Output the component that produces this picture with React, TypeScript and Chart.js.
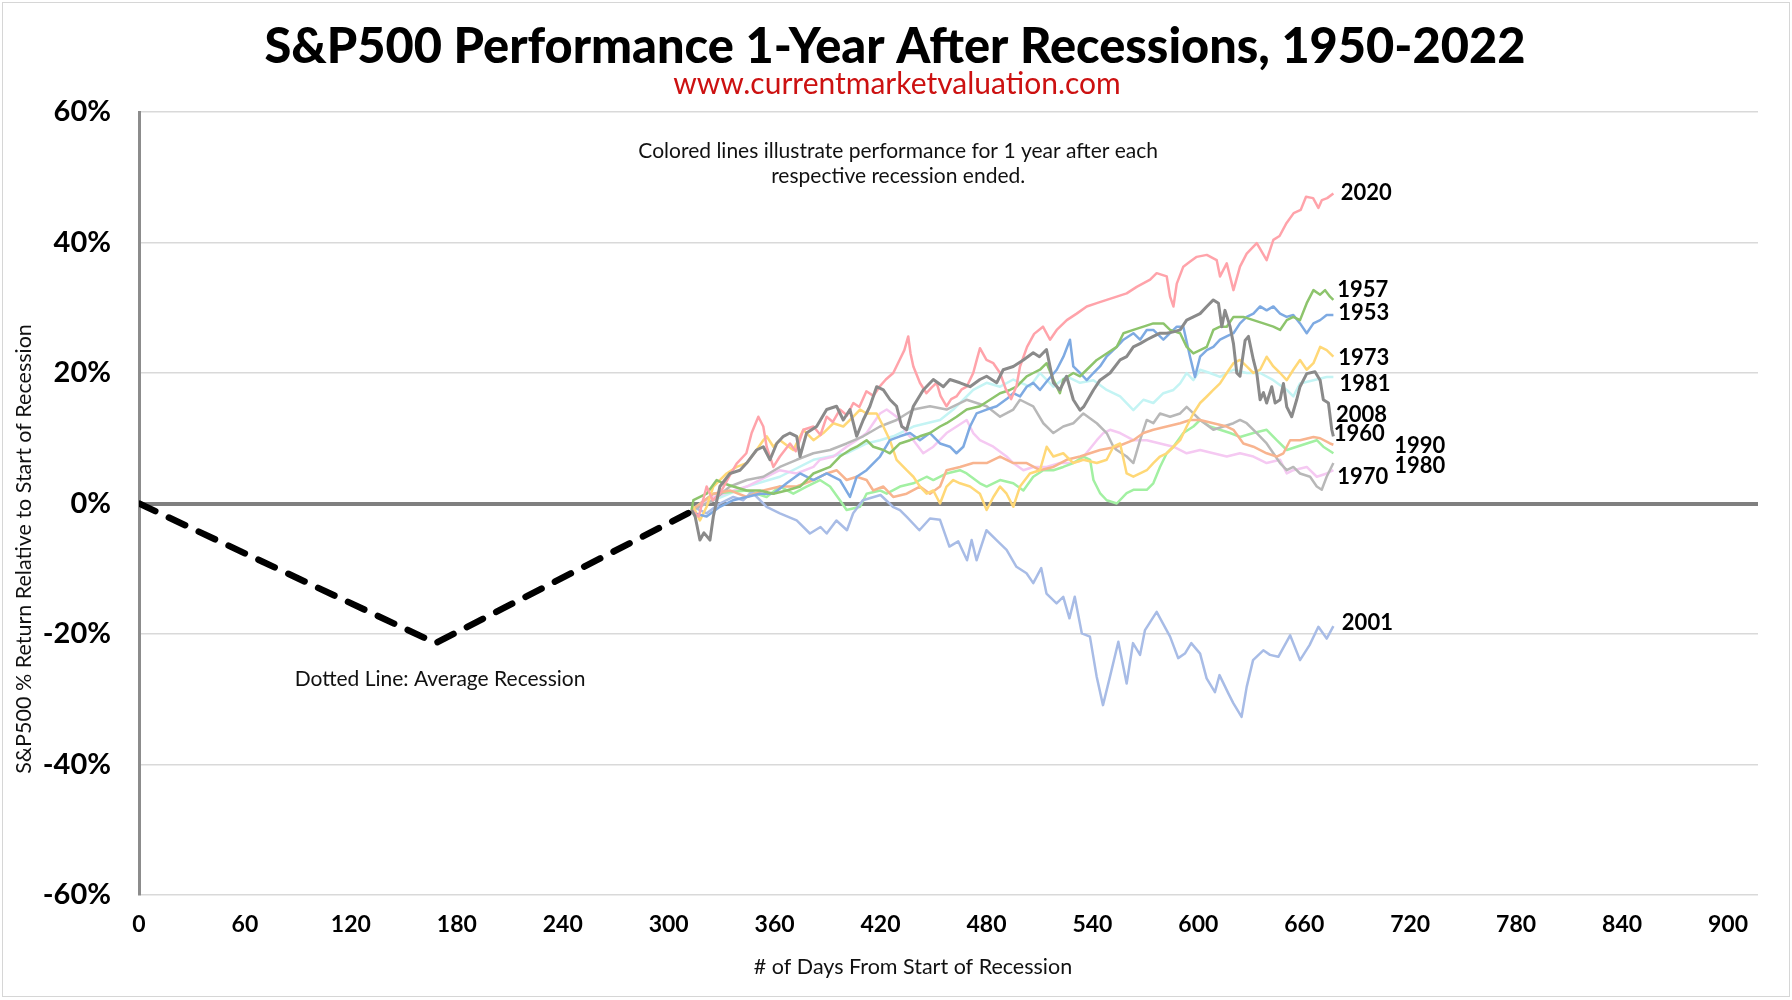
import React, { useEffect, useRef } from 'react';
import { Chart, registerables } from 'chart.js';

Chart.register(...registerables);

const FONT = 'Lato, "Open Sans", "DejaVu Sans", sans-serif';

const TITLE = 'S&P500 Performance 1-Year After Recessions, 1950-2022';
const SUBTITLE = 'www.currentmarketvaluation.com';
const X_TITLE = '# of Days From Start of Recession';
const Y_TITLE = 'S&P500 % Return Relative to Start of Recession';

const xTickValues = [0, 60, 120, 180, 240, 300, 360, 420, 480, 540, 600, 660, 720, 780, 840, 900];
const yTickValues = [-60, -40, -20, 0, 20, 40, 60];

// [day, % return]
const avgRecession = [[0, 0], [168, -21.4], [313, -1.2]];

const s2020 = [[313, -1], [317, -2], [321.5, 2.6], [325, 0.5], [329, 1.5], [334, 4], [338.5, 6.1], [344, 7.7], [347, 10.8], [350.8, 13.3], [353.6, 11.8], [355.5, 8.7], [359.3, 5.6], [363, 7.2], [368.7, 9.2], [372, 8], [376.3, 11.3], [382, 11.8], [386, 10.5], [389.5, 13.3], [393, 12.5], [397, 14.4], [401, 13.5], [404.6, 15.4], [408, 14.8], [412, 17.2], [416, 16.5], [419.7, 18], [423, 19], [427.2, 20], [431, 22.1], [433.5, 23.5], [435.7, 25.6], [437, 23], [438.6, 21], [442.3, 18.5], [446, 16.9], [449, 17.8], [451.8, 18.5], [454, 16.5], [457.4, 14.9], [460, 16], [463, 16.4], [466, 17.5], [468.8, 17.9], [472.5, 20], [474.5, 22], [476.3, 23.8], [480, 22], [483.9, 21.5], [487.7, 20], [491, 17.5], [494, 16], [497, 18], [499, 21], [503, 24], [507, 26], [512, 27.1], [516, 25.1], [519.8, 26.6], [525.5, 28.1], [531.1, 29.1], [536.8, 30.2], [542.5, 30.7], [548.1, 31.2], [553.8, 31.7], [559.4, 32.2], [565.1, 33.2], [572.7, 34.3], [576.4, 35.3], [582.1, 34.8], [584, 31.7], [585.9, 30.2], [587.8, 33.7], [591.5, 36.3], [595, 37], [599.1, 37.8], [604.8, 38.1], [610.4, 37.3], [612.3, 34.8], [616.1, 36.8], [619.9, 32.7], [623.6, 36.3], [627.4, 38.3], [633.1, 39.9], [638.7, 37.3], [642.5, 40.4], [646, 41], [650, 43], [654, 44.5], [658, 45], [661, 47], [665, 46.8], [668, 45.3], [670, 46.5], [673, 46.8], [676.5, 47.5]];

const s2008 = [[313, -1], [315, -2], [317.7, -5.6], [320, -4.5], [323.4, -5.6], [325.3, -2], [329, 2.6], [334.7, 4.6], [340.4, 5.1], [344.2, 6.2], [349.8, 8.2], [353.6, 8.7], [357.4, 6.7], [361.2, 9.2], [365, 10.3], [368.7, 10.8], [372.5, 10.3], [374.4, 7.2], [378.1, 10.8], [383.8, 11.8], [389.5, 14.4], [395.1, 14.9], [398.9, 12.8], [402.7, 14.4], [406.5, 10.3], [410.2, 12.8], [414, 14.9], [417.8, 17.9], [421.6, 17.4], [425.4, 15.9], [429.1, 14.9], [432, 11.8], [434.8, 11.3], [438.6, 14.9], [444.2, 17.4], [449.9, 19], [455.6, 17.9], [459.3, 19], [465, 18.5], [470.7, 17.9], [476.3, 19], [480.1, 19.5], [485.8, 18.5], [489.5, 20.5], [495.2, 21], [500.9, 22], [506.5, 23.1], [510, 22.5], [514, 23.6], [517.9, 18.5], [521.6, 17.4], [525.4, 19.5], [529.2, 15.9], [533, 14.3], [535, 14.8], [540.6, 17.4], [544.3, 18.9], [550, 20], [555.7, 22], [559.4, 22.5], [563.2, 24], [567, 24.5], [570.8, 25.1], [574.5, 25.6], [578.3, 26.1], [582.1, 26.1], [585.9, 26.3], [589.7, 26.6], [593.4, 28.1], [597.2, 28.6], [601, 29.1], [604.8, 30.2], [608.5, 31.2], [611.4, 30.7], [613.3, 27.1], [615.1, 29.6], [618, 27.1], [619.9, 24.5], [621.8, 20], [623.6, 19.5], [626.5, 25], [628.4, 25.6], [631.2, 22], [633.1, 20], [635, 15.9], [636.9, 17], [638.7, 15.4], [641.6, 17.9], [643.5, 15.4], [646.3, 15.9], [648.2, 18.4], [650.1, 14.8], [652.9, 13.3], [655.7, 15.9], [657.6, 17.9], [661.4, 19.9], [666.1, 20.2], [669, 18.9], [670.8, 15.9], [673.7, 15.4], [675.6, 11.3], [676.5, 10.3]];

const s1957 = [[313, -1], [314, 0.5], [321.5, 1.5], [327.2, 3.6], [331, 3.1], [336.6, 2.6], [344.2, 2], [351.7, 2], [359.3, 1.5], [366.8, 2], [374.4, 2.6], [382, 4.6], [391.4, 5.6], [397, 7.2], [402.7, 8.2], [406.5, 8.7], [412.1, 9.7], [415.9, 8.7], [421.6, 8.2], [425.3, 7.7], [431, 9.2], [436.7, 9.7], [442.3, 10.3], [448, 10.8], [453.7, 11.8], [457.4, 12.3], [463.1, 13.3], [468.8, 14.4], [476.3, 14.9], [482, 15.9], [487.7, 16.9], [493.3, 17.4], [497.1, 17.9], [502.8, 19.5], [506.5, 20], [510.3, 20.5], [514.1, 21.5], [517.9, 19], [521.6, 16.9], [523.5, 19], [529.2, 20], [533, 19.5], [536.8, 20.5], [542.5, 22], [548.1, 23], [553.8, 24], [557.6, 26.1], [563.2, 26.6], [568.9, 27.1], [574.5, 27.6], [580.2, 27.6], [584, 26.6], [589.7, 26.1], [593.4, 24], [597.2, 23], [601, 23.5], [604.8, 24], [608.5, 26.6], [612.3, 27.1], [616.1, 27.1], [619.9, 28.6], [625.5, 28.6], [631.2, 28.1], [636.9, 27.6], [642.5, 27.1], [646.3, 26.6], [650.1, 28.1], [653.8, 28.6], [657.6, 28.1], [661.4, 30.7], [665.2, 32.7], [669, 32], [671.8, 32.7], [674.6, 31.7], [676.5, 31.2]];

const s1953 = [[313, -1], [314, -1.5], [321.5, -2], [329, -0.5], [336.6, 0.5], [344.2, 1], [351.7, 1.5], [359.3, 1.5], [366.8, 3.1], [374.4, 4.6], [382, 3.6], [389.5, 4.6], [397, 3.6], [402.7, 1], [406.5, 4.1], [412.1, 5.1], [419.7, 7.2], [425.3, 9.7], [431, 10.3], [436.7, 10.8], [442.3, 9.7], [448, 10.8], [453.7, 9.2], [459.3, 8.7], [463, 7.7], [466.9, 8.7], [470.7, 11.8], [474.4, 13.8], [480.1, 14.4], [485.8, 14.9], [491.4, 16], [495.2, 16.9], [499, 16.4], [502.8, 17.9], [506.5, 18.5], [510.3, 17.4], [514.1, 18.7], [519.8, 20.5], [523.6, 22.5], [527.3, 25.1], [529.2, 21], [533, 20], [536.8, 18.9], [540.6, 20], [544.3, 21], [548, 22.5], [553.8, 24], [557.6, 25.1], [563.2, 26.1], [567, 25.1], [570.8, 26.6], [574.5, 26.6], [580.2, 25.1], [584, 26.1], [587.8, 27.1], [591.5, 27.1], [595.3, 22.5], [598.1, 19.4], [601, 22.5], [604.8, 23.5], [608.5, 24], [612.3, 25.1], [616, 25.6], [619.9, 26.1], [623.6, 27.6], [627.4, 28.6], [631.2, 29.1], [635, 30.2], [638.7, 29.6], [642.5, 30.2], [646.3, 29.1], [650, 28.6], [653.8, 28.9], [657.6, 27.6], [661.4, 26.1], [665.2, 27.6], [669, 28.1], [672.7, 28.9], [676.5, 28.9]];

const s1973 = [[313, -1], [314, -0.5], [317.7, -2.6], [321.5, -0.5], [325.3, 2.6], [329, 3.6], [332.8, 4.6], [338.5, 5.6], [344.2, 6.2], [349.8, 8.2], [353.6, 9.7], [355.5, 10.3], [359.3, 8.7], [363, 9.7], [370.6, 8.2], [376.3, 11.3], [382, 9.7], [387.6, 10.8], [393.3, 12.3], [398.9, 11.8], [404.6, 13.3], [408.4, 14.4], [412.1, 13.8], [417.8, 13.8], [421.6, 11.8], [425.3, 9.7], [429.1, 6.7], [434.8, 5.1], [438.6, 4.1], [442.3, 2.6], [446.1, 1.5], [449.9, 2], [453.7, 0], [457.4, 2.6], [461.2, 3.6], [465, 3.1], [470.7, 2.6], [476.3, 1.5], [480.1, -1], [483.9, 1], [487.7, 2.6], [491.4, 1.5], [495.2, -0.5], [499, 2.6], [504.6, 4.6], [510.3, 5.1], [514.1, 8.7], [517.9, 7.2], [523.5, 7.7], [529.2, 6.2], [534.9, 6.7], [542.5, 6.2], [548.1, 6.7], [551.9, 8.7], [555.7, 9.2], [559.4, 4.6], [563.2, 4.1], [567, 4.6], [570.8, 5.1], [574.5, 6.2], [578.3, 7.2], [582.1, 7.7], [585.9, 8.7], [589.7, 9.7], [593.4, 11.8], [597.2, 13.8], [601, 15.4], [604.8, 16.4], [608.5, 17.4], [612.3, 18.4], [616.1, 20], [619.9, 21.5], [623.6, 22], [627.4, 21], [631.2, 20], [635, 20.5], [638.7, 22.5], [642.5, 21], [646.3, 20], [650.1, 18.9], [653.8, 20.5], [657.6, 22], [661.4, 20.5], [665.2, 21.5], [669, 24], [672.7, 23.5], [676.5, 22.5]];

const s1981 = [[313, -1], [325.3, 0.5], [344.2, 2.6], [363, 4.1], [382, 6.7], [391.4, 7.2], [400.8, 7.7], [412.1, 9.2], [419.7, 9.7], [427.2, 10.3], [438.6, 11.8], [446.1, 12.3], [453.7, 12.8], [461.2, 14.4], [466.9, 15.9], [472.5, 17.4], [480.1, 18.5], [487.7, 17.9], [495.2, 19], [504.6, 17.9], [510.3, 20], [517.9, 17.9], [525.4, 19.5], [533, 18.5], [540.6, 18.9], [548.1, 17.4], [555.7, 16.4], [563.2, 14.3], [568.9, 15.9], [574.5, 15.4], [580.2, 16.9], [585.9, 17.4], [589.7, 18.4], [593.4, 20], [597.2, 18.9], [601, 20.5], [606.6, 20], [612.3, 19.4], [619.9, 20.5], [627.4, 20], [635, 20], [642.5, 18.9], [650.1, 17.4], [653.8, 16.4], [657.6, 18.4], [665.2, 18.9], [672.7, 19.4], [676.5, 19.4]];

const s1960 = [[313, -1], [325.3, 1.5], [334.7, 2], [344.2, 1], [353.6, 2], [363, 2.6], [372.5, 2.6], [382, 3.6], [389.5, 4.6], [395.1, 5.1], [400.8, 3.6], [406.5, 4.1], [412.1, 3.6], [415.9, 2], [421.6, 2.6], [427.2, 1], [434.8, 1.5], [442.3, 2.6], [448, 1.5], [453.7, 2.6], [457.4, 5.1], [465, 5.6], [472.5, 6.2], [480.1, 6.2], [487.7, 7.2], [495.2, 6.2], [502.8, 6.2], [510.3, 5.1], [517.9, 5.6], [525.4, 6.7], [533, 7.2], [544.3, 8.2], [553.8, 8.7], [563.2, 9.7], [568.9, 10.8], [574.5, 11.3], [582.1, 11.8], [589.7, 12.3], [595.3, 12.8], [601, 12.8], [608.5, 12.3], [616.1, 11.8], [619.9, 11.3], [625.5, 9.2], [631.2, 8.7], [638.7, 7.7], [644.4, 7.2], [648.2, 7.7], [652, 9.7], [657.6, 9.7], [665.2, 10.2], [669, 10], [674.6, 9.2], [676.5, 9]];

const s1990 = [[313, -1], [325.3, 1.5], [344.2, 2], [355.5, 1], [363, 2.6], [370.6, 1.5], [378.1, 2.6], [385.7, 3.6], [391.4, 2.6], [397, 0.5], [400.8, -1], [408.4, -0.5], [412.1, 1.5], [419.7, 2], [423.5, 1.5], [431, 2.6], [438.6, 3.1], [446.1, 4.1], [449.9, 3.6], [457.4, 4.6], [465, 5.1], [468.8, 4.6], [476.3, 3.1], [480.1, 2.6], [487.7, 3.6], [495.2, 3.1], [500.9, 2], [506.5, 4.1], [512.2, 5.1], [517.9, 5.1], [523.5, 5.6], [529.2, 6.2], [534.9, 7.2], [538.7, 6.7], [540.6, 3.6], [544.3, 1.6], [548.1, 0.5], [553.8, 0], [559.4, 1.6], [563.2, 2.1], [570.8, 2.1], [574.5, 3.1], [578.3, 5.6], [582.1, 7.7], [585.9, 8.7], [591.5, 10.8], [597.2, 11.8], [601, 12.8], [606.6, 11.8], [612.3, 11.3], [618, 10.8], [623.6, 10.2], [631.2, 10.8], [638.7, 11.3], [644.4, 9.7], [650.1, 8.2], [655.7, 8.7], [661.4, 9.2], [667.1, 9.7], [670.8, 8.7], [676.5, 7.7]];

const s1980 = [[313, -1], [325.3, 1], [344.2, 2.6], [363, 5.1], [372.5, 4.6], [382, 5.6], [385.7, 6.7], [393.3, 7.2], [400.8, 8.7], [406.5, 9.7], [412.1, 10.8], [419.7, 13.8], [423.5, 14.4], [429.1, 13.3], [434.8, 10.8], [438.6, 9.7], [444.2, 7.7], [449.9, 8.7], [457.4, 10.8], [463.1, 11.8], [468.8, 12.8], [472.5, 10.8], [476.3, 9.7], [483.9, 8.7], [491.4, 7.2], [495.2, 6.2], [500.9, 5.1], [506.5, 5.6], [514.1, 5.6], [521.6, 6.2], [527.3, 6.2], [533, 6.5], [542.5, 9.7], [546.2, 10.8], [550, 11.3], [555.7, 10.8], [563.2, 9.7], [570.8, 9.7], [578.3, 9.2], [585.9, 8.7], [593.4, 7.7], [601, 8.2], [608.5, 7.7], [616.1, 7.2], [623.6, 7.7], [631.2, 7.2], [638.7, 6.2], [646.3, 6.7], [650.1, 4.6], [653.8, 5.1], [661.4, 5.6], [667.1, 4.1], [672.7, 4.6], [676.5, 5.1]];

const s1970 = [[313, -1], [325.3, 0.5], [334.7, 2.6], [344.2, 3.6], [353.6, 4.1], [363, 5.6], [372.5, 6.7], [382, 7.7], [391.4, 8.2], [400.8, 9.2], [410.2, 10.3], [419.7, 11.8], [429.1, 12.8], [438.6, 14.4], [448, 14.9], [457.4, 14.4], [468.8, 15.9], [480.1, 14.9], [487.7, 13.3], [495.2, 14.4], [499, 15.9], [506.5, 14.9], [512.2, 12.3], [517.9, 10.8], [523.5, 11.8], [529.2, 12.3], [534.9, 13.8], [542.5, 12.3], [548.1, 10.8], [551.9, 8.7], [553.8, 8.2], [559.4, 7.2], [563.2, 6.2], [567, 9.7], [570.8, 12.8], [574.5, 12.3], [578.3, 13.8], [584, 13.3], [589.7, 13.8], [593.4, 14.8], [597.2, 13.8], [601, 12.8], [608.5, 11.3], [614.2, 11.8], [619.9, 12.3], [623.6, 12.8], [627.4, 12.3], [633.1, 10.8], [638.7, 9.2], [642.5, 7.7], [646.3, 6.2], [650.1, 5.1], [653.8, 5.6], [657.6, 4.6], [663.3, 4.1], [667.1, 2.6], [669.9, 2.1], [672.7, 4.1], [676.5, 6.2]];

const s2001 = [[313, -1], [314, -0.5], [321.5, -1.5], [329, 0], [336.6, 1], [342.3, 0.5], [347, 1.8], [355.5, -0.5], [363, -1.5], [372.5, -2.6], [380, -4.6], [386, -3.6], [389.5, -4.6], [395, -2.6], [401, -4.1], [404.5, -1.5], [410, 0.5], [420, 1.3], [427, -0.5], [431, -1], [435, -2.1], [442, -4.1], [448, -2.3], [453.7, -2.5], [459, -6.6], [464, -5.8], [469, -8.7], [471.6, -5.6], [474.4, -8.7], [480, -4.1], [485.7, -5.6], [491.4, -7.1], [497, -9.7], [502.7, -10.7], [506.5, -12.2], [511, -9.9], [514, -13.8], [519.7, -15.3], [523.5, -14.3], [527, -17.6], [530, -14.3], [534, -19.9], [538.6, -20.4], [542.4, -26.5], [546, -30.9], [550, -26.5], [554.7, -21.2], [559.4, -27.6], [563, -21.4], [567, -23.2], [569.8, -19.4], [576.4, -16.6], [580, -18.4], [584, -20.4], [588.6, -23.7], [592.4, -23], [596, -21.4], [601, -23], [604.7, -26.8], [609.4, -28.9], [612, -26.3], [617, -29.1], [619.8, -30.6], [624.5, -32.7], [627.4, -28.1], [631, -24], [636.8, -22.5], [640.6, -23.2], [645.3, -23.5], [652, -20.2], [657.6, -24], [663, -21.7], [668, -18.9], [672.7, -20.7], [676.5, -18.8]];

// drawing order: first = on top
const seriesNames = ['2008', '2020', '1957', '1953', '1973', '1960', '1970', '2001', '1990', '1980', '1981'];
const seriesValues = [s2008, s2020, s1957, s1953, s1973, s1960, s1970, s2001, s1990, s1980, s1981];
const seriesColors = ['#8a8a8a', '#ffa3aa', '#8dc46c', '#7eaae2', '#ffd877', '#f8b48f', '#b8b8b8', '#a8bce6', '#a2f0a2', '#f5c9f2', '#c4f4f4'];

// end-of-line labels: [label, day, %]
const endLabels = [
  ['2020', 680.6, 47.6],
  ['1957', 678.7, 32.8],
  ['1953', 679.3, 29.2],
  ['1973', 679.3, 22.3],
  ['1981', 680, 18.3],
  ['2008', 678, 13.6],
  ['1960', 676.7, 10.6],
  ['1990', 711, 8.9],
  ['1980', 711, 5.7],
  ['1970', 678.7, 4.1],
  ['2001', 681.3, -18.3],
];

// text notes: [text, day, %]
const notes = [
  ['Colored lines illustrate performance for 1 year after each', 430, 54.0],
  ['respective recession ended.', 430, 50.2],
  ['Dotted Line: Average Recession', 170.5, -27.0],
];

const toXY = (arr: number[][]) => arr.map(([d, p]) => ({ x: d, y: p }));

const textPlugin = {
  id: 'textPlugin',
  afterDraw(chart: any) {
    const { ctx } = chart;
    const xs = chart.scales.x;
    const ys = chart.scales.y;
    ctx.save();
    ctx.fillStyle = '#000';
    ctx.textAlign = 'center';
    ctx.textBaseline = 'middle';
    ctx.font = `900 48.7px ${FONT}`;
    ctx.fillText(TITLE, 895, 47);
    ctx.fillStyle = '#cc1111';
    ctx.font = `30px ${FONT}`;
    ctx.fillText(SUBTITLE, 897, 84);

    ctx.fillStyle = '#111';
    ctx.font = `21px ${FONT}`;
    for (const [t, d, p] of notes as any) {
      ctx.fillText(t, xs.getPixelForValue(d), ys.getPixelForValue(p));
    }

    ctx.font = `21.5px ${FONT}`;
    ctx.fillText(X_TITLE, 913, 967);

    ctx.save();
    ctx.translate(24, 549);
    ctx.rotate(-Math.PI / 2);
    ctx.font = `21.5px ${FONT}`;
    ctx.fillText(Y_TITLE, 0, 0);
    ctx.restore();

    ctx.textAlign = 'left';
    ctx.font = `bold 22px ${FONT}`;
    ctx.fillStyle = '#000';
    for (const [t, d, p] of endLabels as any) {
      ctx.fillText(t, xs.getPixelForValue(d), ys.getPixelForValue(p));
    }
    ctx.restore();
  },
};

export default function App() {
  const ref = useRef<HTMLCanvasElement | null>(null);

  useEffect(() => {
    if (!ref.current) return;
    const datasets: any[] = [
      {
        label: 'Average Recession',
        data: toXY(avgRecession),
        borderColor: '#000',
        borderWidth: 6.5,
        borderDash: [18, 15],
        borderCapStyle: 'round',
        pointRadius: 0,
        order: 0,
      },
      ...seriesNames.map((n, i) => ({
        label: n,
        data: toXY(seriesValues[i]),
        borderColor: seriesColors[i],
        borderWidth: n === '2008' ? 3 : 2.5,
        pointRadius: 0,
        borderJoinStyle: 'round',
        order: i + 1,
      })),
    ];

    const chart = new Chart(ref.current, {
      type: 'line',
      data: { datasets },
      options: {
        animation: false,
        responsive: false,
        devicePixelRatio: 1,
        layout: { padding: { top: 112, right: 34, left: 0, bottom: 0 } },
        plugins: { legend: { display: false }, tooltip: { enabled: false }, title: { display: false } },
        elements: { line: { tension: 0 } },
        scales: {
          x: {
            type: 'linear',
            min: 0,
            max: 917,
            afterBuildTicks: (axis: any) => {
              axis.ticks = xTickValues.map((v) => ({ value: v }));
            },
            afterFit: (s: any) => {
              s.height = 105;
            },
            grid: { display: false, drawTicks: false },
            border: { display: false },
            ticks: {
              padding: 16,
              color: '#000',
              font: { family: FONT, size: 23, weight: 'bold' },
              maxRotation: 0,
              autoSkip: false,
            },
          },
          y: {
            type: 'linear',
            min: -60,
            max: 60,
            afterBuildTicks: (axis: any) => {
              axis.ticks = yTickValues.map((v) => ({ value: v }));
            },
            afterFit: (s: any) => {
              s.width = 139;
            },
            grid: {
              drawTicks: false,
              color: (c: any) => (c.tick && c.tick.value === 0 ? '#7f7f7f' : '#d9d9d9'),
              lineWidth: (c: any) => (c.tick && c.tick.value === 0 ? 4 : 1.5),
            },
            border: { display: true, color: '#8c8c8c', width: 3 },
            ticks: {
              padding: 28,
              color: '#000',
              font: { family: FONT, size: 29, weight: 'bold' },
              callback: (v: any) => `${v}%`,
            },
          },
        },
      },
      plugins: [textPlugin],
    });
    return () => chart.destroy();
  }, []);

  return (
    <div style={{ position: 'fixed', left: 0, top: 0, width: 1792, height: 1000, background: '#fff' }}>
      <div
        style={{
          position: 'absolute',
          left: 2,
          top: 2,
          width: 1788,
          height: 995,
          border: '1px solid #d6d6d6',
          boxSizing: 'border-box',
        }}
      />
      <canvas ref={ref} width={1792} height={1000} style={{ position: 'absolute', left: 0, top: 0, width: 1792, height: 1000 }} />
    </div>
  );
}
